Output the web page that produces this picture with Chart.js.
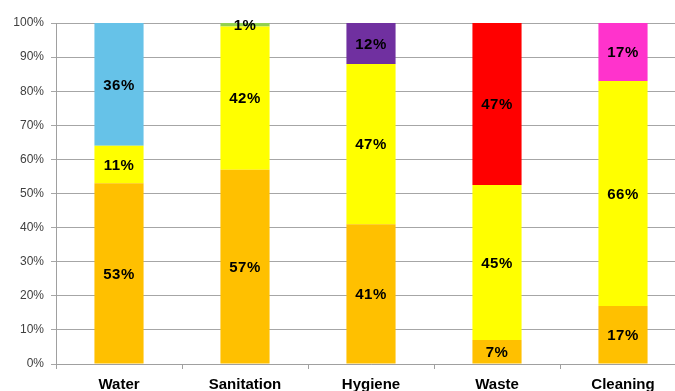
<!DOCTYPE html>
<html>
<head>
<meta charset="utf-8">
<script src="https://cdn.jsdelivr.net/npm/chart.js@4/dist/chart.umd.min.js"></script>
<style>
  html, body { margin: 0; padding: 0; overflow: hidden; background: #fff; }
  #wrap { position: relative; width: 690px; height: 396px; }
</style>
</head>
<body>
<div id="wrap"><canvas id="c"></canvas></div>
<script>
// Share of each service area, in percent
const categories = ['Water', 'Sanitation', 'Hygiene', 'Waste', 'Cleaning'];
const lowerShare  = [53, 57, 41, 7, 17];
const middleShare = [11, 42, 47, 45, 66];
const upperShare  = [36, 1, 12, 47, 17];
const upperColors = ['#66c2e8', '#92d050', '#7030a0', '#ff0000', '#ff33cc'];
const yTickLabels = ['0%', '10%', '20%', '30%', '40%', '50%', '60%', '70%', '80%', '90%', '100%'];

// 100% stacking: each column is scaled so its parts fill the full height
const totals = categories.map((_, i) => lowerShare[i] + middleShare[i] + upperShare[i]);
const toPct = arr => arr.map((v, i) => v / totals[i] * 100);

const raw = [lowerShare, middleShare, upperShare];

const valueLabels = {
  id: 'valueLabels',
  afterDatasetsDraw(chart) {
    const ctx = chart.ctx;
    ctx.save();
    ctx.font = 'bold 15px "Liberation Sans", Arial, sans-serif';
    if ('letterSpacing' in ctx) ctx.letterSpacing = '0.5px';
    ctx.fillStyle = '#000';
    ctx.textAlign = 'center';
    ctx.textBaseline = 'middle';
    chart.data.datasets.forEach((ds, di) => {
      chart.getDatasetMeta(di).data.forEach((el, i) => {
        const y = (el.y + el.base) / 2;
        ctx.fillText(raw[di][i] + '%', el.x, y + 1);
      });
    });
    ctx.restore();
  }
};

const common = { barPercentage: 0.39, categoryPercentage: 1.0, borderWidth: 0 };

new Chart(document.getElementById('c'), {
  type: 'bar',
  data: {
    labels: categories,
    datasets: [
      Object.assign({ data: toPct(lowerShare),  backgroundColor: '#ffc000' }, common),
      Object.assign({ data: toPct(middleShare), backgroundColor: '#ffff00' }, common),
      Object.assign({ data: toPct(upperShare),  backgroundColor: upperColors }, common)
    ]
  },
  options: {
    responsive: true,
    maintainAspectRatio: false,
    animation: false,
    layout: { padding: { top: 23, right: 4, left: 0, bottom: 0 } },
    plugins: { legend: { display: false }, tooltip: { enabled: false } },
    scales: {
      x: {
        stacked: true,
        grid: { offset: true, drawOnChartArea: false, drawTicks: true, tickLength: 5, color: '#a0a0a0' },
        border: { color: '#a0a0a0', width: 1 },
        ticks: {
          color: '#000',
          padding: 7,
          maxRotation: 0,
          font: { family: '"Liberation Sans", Arial, sans-serif', size: 15, weight: 'bold' }
        },
        afterFit(s) { s.height = 32; }
      },
      y: {
        stacked: true,
        min: 0,
        max: 100,
        grid: { color: '#a6a6a6', tickLength: 5, drawTicks: true },
        border: { color: '#a0a0a0', width: 1 },
        ticks: {
          stepSize: 10,
          padding: 7,
          color: '#404040',
          font: { family: '"Liberation Sans", Arial, sans-serif', size: 12 },
          callback: (v, i) => yTickLabels[i]
        },
        afterFit(s) { s.width = 56; }
      }
    }
  },
  plugins: [valueLabels]
});
</script>
</body>
</html>
